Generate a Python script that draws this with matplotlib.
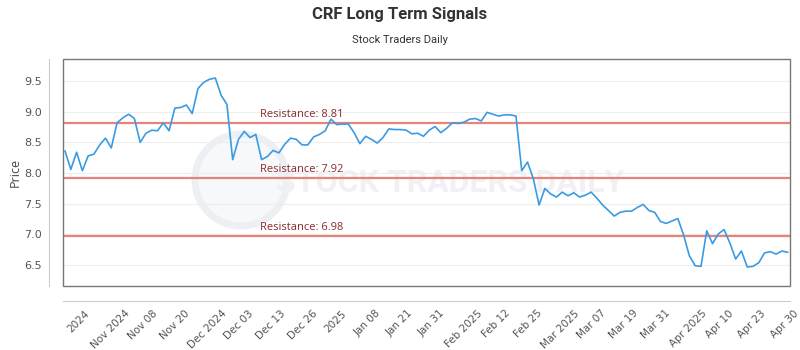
import numpy as np
import matplotlib.pyplot as plt
from matplotlib.patches import Rectangle, Ellipse

# Cours de cloture
prices = [8.36, 8.06, 8.34, 8.04, 8.28, 8.31, 8.46, 8.57, 8.41, 8.82, 8.90, 8.96,
          8.89, 8.50, 8.65, 8.70, 8.69, 8.82, 8.69, 9.06, 9.07, 9.11, 8.97,
          9.38, 9.48, 9.53, 9.55, 9.27, 9.12, 8.22, 8.55, 8.68, 8.58, 8.63, 8.22,
          8.27, 8.37, 8.33, 8.47, 8.57, 8.55, 8.46, 8.46, 8.59,
          8.63, 8.69, 8.88, 8.79, 8.80, 8.80, 8.66, 8.48, 8.60, 8.55, 8.49, 8.58,
          8.72, 8.71, 8.71, 8.70, 8.64, 8.65, 8.60, 8.70, 8.76,
          8.66, 8.73, 8.82, 8.81, 8.83, 8.88, 8.89, 8.85, 8.99, 8.96, 8.93, 8.95,
          8.95, 8.93, 8.04, 8.18, 7.91, 7.48, 7.75, 7.66, 7.61, 7.69,
          7.63, 7.68, 7.61, 7.64, 7.69, 7.59, 7.48, 7.39, 7.30, 7.36, 7.38, 7.38,
          7.44, 7.49, 7.39, 7.36, 7.21, 7.18, 7.22, 7.26,
          6.99, 6.65, 6.49, 6.48, 7.06, 6.85, 7.01, 7.08, 6.86, 6.60, 6.73, 6.47,
          6.48, 6.54, 6.70, 6.72, 6.68, 6.73, 6.71]

tick_labels = ['2024', 'Nov 2024', 'Nov 08', 'Nov 20', 'Dec 2024', 'Dec 03',
               'Dec 13', 'Dec 26', '2025', 'Jan 08', 'Jan 21', 'Jan 31',
               'Feb 2025', 'Feb 12', 'Feb 25', 'Mar 2025', 'Mar 07', 'Mar 19',
               'Mar 31', 'Apr 2025', 'Apr 10', 'Apr 23', 'Apr 30']

resistances = [8.81, 7.92, 6.98]
y_ticks = [6.5, 7.0, 7.5, 8.0, 8.5, 9.0, 9.5]

fig = plt.figure(figsize=(8, 3.5), dpi=100)
fig.patch.set_facecolor('white')

# filigrane (derriere les axes)
fig.patches.append(Ellipse((241 / 800, 1 - 180 / 350), 92 / 800, 92 / 350,
                           transform=fig.transFigure, facecolor='#f6f8fa',
                           edgecolor='#eceff3', lw=5, zorder=-2))
fig.text(450 / 800, 1 - 183 / 350, 'STOCK TRADERS DAILY', ha='center', va='center',
         fontsize=23, color='#eff1f4', family='Roboto', fontweight='bold', zorder=-1)

ax = fig.add_axes([63 / 800, 1 - 286 / 350, 727 / 800, 227 / 350])
ax.patch.set_alpha(0)

x = np.arange(len(prices))
ax.plot(x, prices, color='#3a9be3', lw=1.2, zorder=3)

label_x = 33.7
for r in resistances:
    ax.axhline(r, color='#e8837c', lw=1.6, zorder=2)
    ax.text(label_x, r + 0.05, f'Resistance: {r:.2f}', color='#8b2a2a',
            fontsize=8, family='Open Sans', va='bottom', zorder=4)

ax.set_xlim(-0.35, 125.4)
ax.set_ylim(6.16, 9.86)
ax.set_yticks(y_ticks)
ax.set_yticklabels([f'{v:.1f}' for v in y_ticks], family='Open Sans')
ax.set_xticks(np.linspace(2.4, 124.4, len(tick_labels)))
ax.set_xticklabels(tick_labels, family='Open Sans')
ax.tick_params(axis='both', length=0, labelcolor='#555555')
ax.tick_params(axis='y', pad=5, labelsize=8)
ax.tick_params(axis='x', pad=5, labelrotation=45, labelsize=7.5)
plt.setp(ax.get_xticklabels(), ha='right', va='center', rotation_mode='anchor')

ax.yaxis.grid(True, color='#eeeeee', lw=0.8)
ax.set_axisbelow(True)

ax.spines['top'].set_visible(False)
ax.spines['right'].set_visible(False)
ax.spines['left'].set_position(('outward', 10))
ax.spines['bottom'].set_position(('outward', 11))
ax.spines['left'].set_color('#cccccc')
ax.spines['bottom'].set_color('#cccccc')
ax.add_patch(Rectangle((0, 0), 1, 1, transform=ax.transAxes, fill=False,
                       edgecolor='#777777', lw=1, clip_on=False, zorder=5))

ax.set_ylabel('Price', fontsize=9, color='#444444', family='Open Sans')
ax.yaxis.set_label_coords(-0.0564, 0.5)

fig.text(0.5, 1 - 15 / 350, 'CRF Long Term Signals', ha='center', va='center',
         fontsize=12, fontweight='bold', color='#333333', family='Roboto')
fig.text(0.5, 1 - 40 / 350, 'Stock Traders Daily', ha='center', va='center',
         fontsize=8, color='#333333', family='Roboto')

fig.savefig('out.png', dpi=100)
